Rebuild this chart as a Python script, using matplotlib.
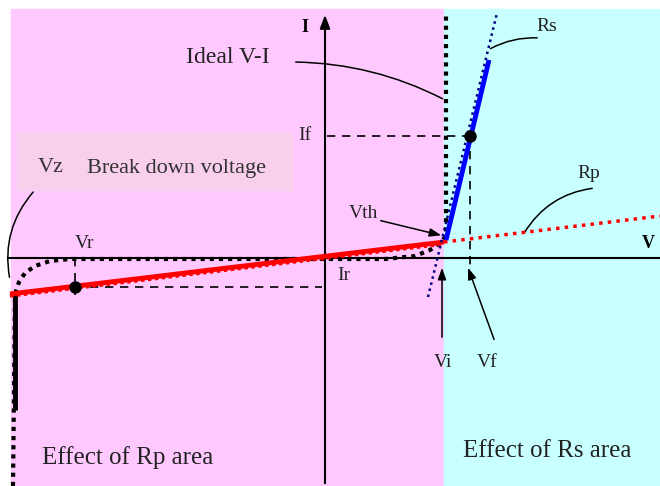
import numpy as np
import matplotlib.pyplot as plt
from matplotlib.patches import Rectangle

plt.rcParams['font.family'] = ['Liberation Serif', 'DejaVu Serif']

# diagram units: V to the right, I upwards, origin where the axes cross
v_lim = (-325, 335)
i_lim = (-228, 258)

# shaded regions (left edge, right edge)
rp_area = (-314, 119)
rs_area = (119, 335)

# ideal diode curve (reverse knee + forward wall)
ideal_v = [-312, -310, -306, -300, -290, -275, -255, 60, 90, 105, 115, 121, 121]
ideal_i = [-228, -36, -24, -15, -8, -3, -1, -1, 2, 8, 15, 22, 246]
breakdown_v = [-310, -310]
breakdown_i = [-35, -152]

# parallel resistance line Rp
rp_v = [-315, 119]
rp_i = [-36, 16]
rp_ext_v = [119, 335]
rp_ext_i = [16, 42]

# series resistance line Rs
rs_v = [121, 164]
rs_i = [18, 198]
rs_ext_v = [103, 172]
rs_ext_i = [-39, 245]

# operating points
forward_pt = (145, 122)   # (Vf, If)
reverse_pt = (-250, -29)  # (Vr, Ir)

fig = plt.figure(figsize=(6.6, 4.86), dpi=100)
ax = fig.add_axes([0, 0, 1, 1])
ax.set_xlim(*v_lim)
ax.set_ylim(*i_lim)
ax.axis('off')

ax.add_patch(Rectangle((rp_area[0], i_lim[0]), rp_area[1] - rp_area[0], 249 - i_lim[0],
                       color='#ffc8ff', zorder=0))
ax.add_patch(Rectangle((rs_area[0], i_lim[0]), rs_area[1] - rs_area[0], 249 - i_lim[0],
                       color='#c8ffff', zorder=0))
# label box for breakdown voltage
ax.add_patch(Rectangle((-308, 68), 275, 57, color='#f8d0ec', zorder=1))
ax.text(-287, 90, 'Vz', fontsize=16, color='#333333', va='center', zorder=2)
ax.text(-238, 90, 'Break down voltage', fontsize=16, color='#333333', va='center', zorder=2)

# axes
ax.plot([-317, 335], [0, 0], color='black', lw=1.5, zorder=3)
ax.annotate('', xy=(0, 246), xytext=(0, -228),
            arrowprops=dict(arrowstyle='-|>,head_length=0.8,head_width=0.3', color='black', lw=1.5),
            zorder=3)
ax.text(-20, 230, 'I', fontsize=13, fontweight='bold', ha='center', va='center')
ax.text(323, 15, 'V', fontsize=13, fontweight='bold', ha='center', va='center')

# ideal curve
ax.plot(ideal_v, ideal_i, color='black', lw=3, ls=(0, (1, 1.2)), zorder=4)
ax.plot(breakdown_v, breakdown_i, color='black', lw=3.5, solid_capstyle='butt', zorder=4)

# Rp line
ax.plot(rp_v, np.array(rp_i) - 2, color='red', lw=2.5, ls=(0, (1, 1)), zorder=5)
ax.plot(rp_v, rp_i, color='red', lw=3.5, solid_capstyle='butt', zorder=5)
ax.plot(rp_ext_v, rp_ext_i, color='red', lw=2.5, ls=(0, (1, 1.5)), zorder=5)

# Rs line
ax.plot(rs_ext_v, rs_ext_i, color='#000080', lw=1.8, ls=(0, (1, 1.5)), zorder=5)
ax.plot(rs_v, rs_i, color='blue', lw=3.5, solid_capstyle='butt', zorder=6)

# operating points with projections
fv, fi = forward_pt
ax.plot([2, fv], [fi, fi], color='black', lw=1.2, ls=(0, (5, 4)), zorder=4)
ax.plot([fv, fv], [fi, -7], color='black', lw=1.2, ls=(0, (5, 4)), zorder=4)
ax.plot(fv, fi, 'o', color='black', ms=8, zorder=7)
rv, ri = reverse_pt
ax.plot([rv, -3], [ri, ri], color='black', lw=1.2, ls=(0, (5, 4)), zorder=4)
ax.plot([rv, rv], [0, -37], color='black', lw=1.2, ls=(0, (5, 4)), zorder=4)
ax.plot(rv, ri, 'o', color='black', ms=8, zorder=7)

ax.text(-20, 122, 'If', fontsize=14, ha='center', va='center', color='#222222')
ax.text(-240, 15, 'Vr', fontsize=14, ha='center', va='center', color='#222222')
ax.text(19, -17, 'Ir', fontsize=14, ha='center', va='center', color='#222222')

# labels with leader lines
lead = dict(arrowstyle='-', color='black', lw=1.1)
ax.text(-97, 200, 'Ideal V-I', fontsize=17, ha='center', va='center', color='#222222')
ax.annotate('', xy=(120, 158), xytext=(-32, 196),
            arrowprops=dict(lead, connectionstyle='arc3,rad=-0.12'))
ax.text(222, 231, 'Rs', fontsize=14, ha='center', va='center', color='#222222')
ax.annotate('', xy=(163, 208), xytext=(215, 220),
            arrowprops=dict(lead, connectionstyle='arc3,rad=0.15'))
ax.text(264, 84, 'Rp', fontsize=14, ha='center', va='center', color='#222222')
ax.annotate('', xy=(198, 23), xytext=(270, 70),
            arrowprops=dict(lead, connectionstyle='arc3,rad=0.25'))
ax.annotate('', xy=(-315, -22), xytext=(-290, 68),
            arrowprops=dict(lead, connectionstyle='arc3,rad=0.25'))

arrow = dict(arrowstyle='-|>,head_length=0.7,head_width=0.25', color='black', lw=1.1)
ax.text(38, 45, 'Vth', fontsize=14, ha='center', va='center', color='#222222')
ax.annotate('', xy=(119, 22), xytext=(53, 38), arrowprops=arrow)
ax.text(118, -104, 'Vi', fontsize=14, ha='center', va='center', color='#222222')
ax.annotate('', xy=(117, -7), xytext=(117, -82), arrowprops=arrow)
ax.text(162, -104, 'Vf', fontsize=14, ha='center', va='center', color='#222222')
ax.annotate('', xy=(142, -7), xytext=(170, -84), arrowprops=arrow)

ax.text(-283, -200, 'Effect of Rp area', fontsize=18, va='center', color='#222222')
ax.text(138, -193, 'Effect of Rs area', fontsize=18, va='center', color='#222222')

fig.savefig('out.png', dpi=100)
